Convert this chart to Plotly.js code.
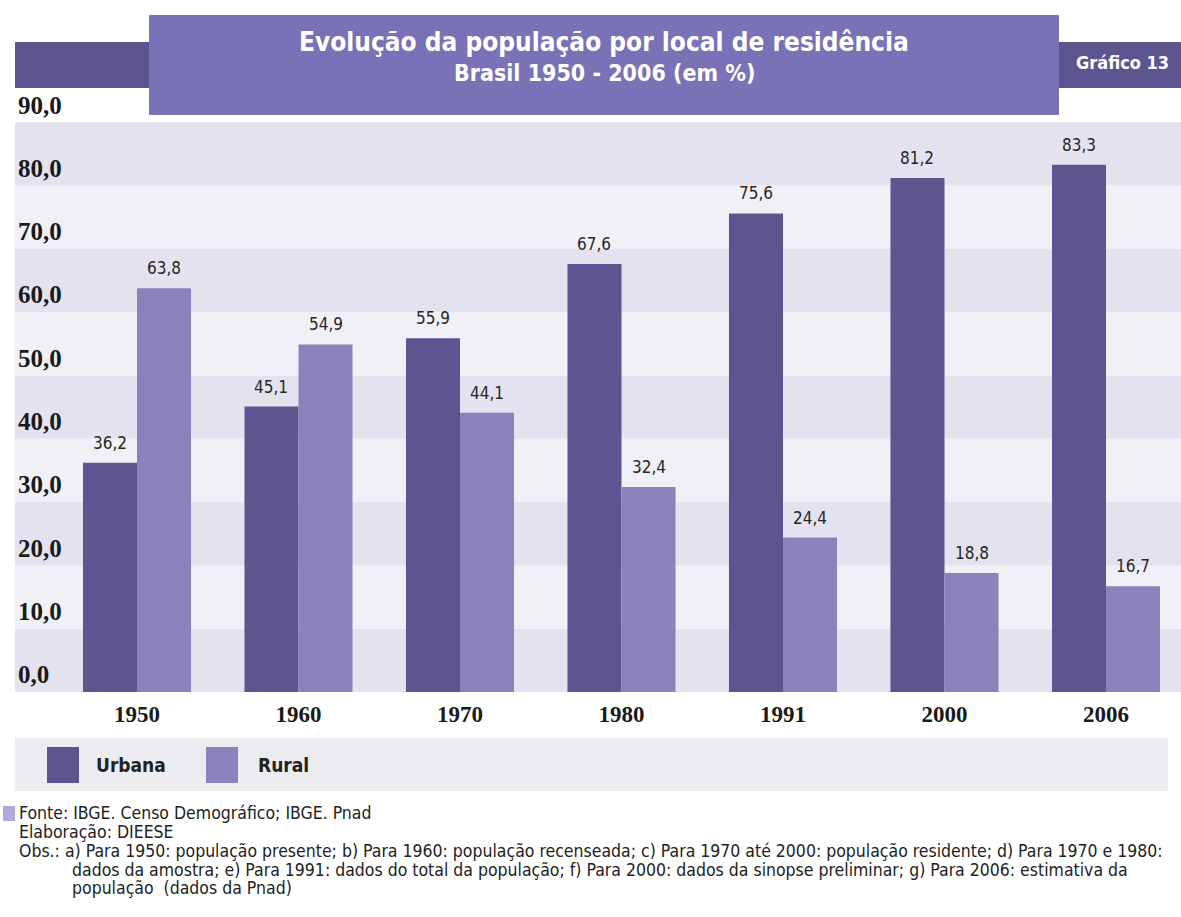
<!DOCTYPE html>
<html>
<head>
<meta charset="utf-8">
<script src="https://cdn.plot.ly/plotly-3.0.1.min.js"></script>
<style>html,body{margin:0;padding:0;background:#fff;}#chart{width:1181px;height:917px;}</style>
</head>
<body>
<div id="chart"></div>
<script>
// ---- data ----
var years = ['1950', '1960', '1970', '1980', '1991', '2000', '2006'];
var urbana = [36.2, 45.1, 55.9, 67.6, 75.6, 81.2, 83.3];
var rural = [63.8, 54.9, 44.1, 32.4, 24.4, 18.8, 16.7];
var seriesNames = ['Urbana', 'Rural'];
var yTicks = [0, 10, 20, 30, 40, 50, 60, 70, 80, 90];
var titleLine1 = 'Evolução da população por local de residência';
var titleLine2 = 'Brasil 1950 - 2006 (em %)';
var chartTag = 'Gráfico 13';
var footerLines = [
  'Fonte: IBGE. Censo Demográfico; IBGE. Pnad',
  'Elaboração: DIEESE',
  'Obs.: a) Para 1950: população presente; b) Para 1960: população recenseada; c) Para 1970 até 2000: população residente; d) Para 1970 e 1980:',
  'dados da amostra; e) Para 1991: dados do total da população; f) Para 2000: dados da sinopse preliminar; g) Para 2006: estimativa da',
  'população  (dados da Pnad)'
];

// ---- style ----
var colors = ['#5c5590', '#8a83bb'];
var W = 1181, H = 917;
var yMax = 100;                // headroom so the "90,0" label is drawn
var pxPerUnit = 570 / 90;
var B = 225, baseY = H - B;    // baseline pixel 692
var T = Math.round(baseY - yMax * pxPerUnit);
var L = 15, R = 0;
var plotW = W - L - R, plotH = H - T - B;
function px(x) { return (x - L) / plotW; }
function py(y) { return (baseY - y) / plotH; }
var narrow = '"DejaVu Sans Condensed", "DejaVu Sans", sans-serif';
var serif = '"Liberation Serif", "DejaVu Serif", serif';

var bargap = 0.331;
var half = (1 - bargap) / 4;

var traces = [
  {type: 'bar', name: seriesNames[0], x: years, y: urbana, marker: {color: colors[0]}, hoverinfo: 'x+y'},
  {type: 'bar', name: seriesNames[1], x: years, y: rural, marker: {color: colors[1]}, hoverinfo: 'x+y'}
];

var shapes = [];
// alternating bands
for (var i = 0; i < yTicks.length - 1; i++) {
  shapes.push({type: 'rect', layer: 'below', xref: 'paper', yref: 'y', x0: 0, x1: 1,
    y0: yTicks[i], y1: yTicks[i + 1], line: {width: 0},
    fillcolor: (i % 2 === 0) ? '#e4e2ef' : '#f1f0f7'});
}
// header strips and title box
shapes.push({type: 'rect', layer: 'below', xref: 'paper', yref: 'paper', x0: px(15), x1: px(149), y0: py(88), y1: py(42), line: {width: 0}, fillcolor: '#5c5590'});
shapes.push({type: 'rect', layer: 'below', xref: 'paper', yref: 'paper', x0: px(1059), x1: px(1181), y0: py(88), y1: py(42), line: {width: 0}, fillcolor: '#5c5590'});
shapes.push({type: 'rect', layer: 'below', xref: 'paper', yref: 'paper', x0: px(149), x1: px(1059), y0: py(115), y1: py(15), line: {width: 0}, fillcolor: '#7a72b6'});
// legend band
shapes.push({type: 'rect', xref: 'paper', yref: 'paper', x0: px(15), x1: px(1168), y0: py(791), y1: py(738), line: {width: 0}, fillcolor: '#ececf0'});
// legend squares
var legX = [47, 206];
for (var s = 0; s < 2; s++) {
  shapes.push({type: 'rect', xref: 'paper', yref: 'paper', x0: px(legX[s]), x1: px(legX[s] + 32), y0: py(783), y1: py(747), line: {width: 0}, fillcolor: colors[s]});
}
// footer square
shapes.push({type: 'rect', xref: 'paper', yref: 'paper', x0: px(3), x1: px(15), y0: py(821), y1: py(806), line: {width: 0}, fillcolor: '#b0aadb'});

var annotations = [];
// value labels
function fmt(v) { return v.toFixed(1).replace('.', ','); }
var series = [urbana, rural];
for (var s2 = 0; s2 < 2; s2++) {
  for (var j = 0; j < years.length; j++) {
    annotations.push({xref: 'x', yref: 'y', x: j + (s2 === 0 ? -half : half), y: series[s2][j],
      text: fmt(series[s2][j]), showarrow: false, yanchor: 'bottom', yshift: 8,
      font: {family: narrow, size: 17, color: '#262626'}});
  }
}
// titles
annotations.push({xref: 'paper', yref: 'paper', x: px(604), y: py(42), text: '<b>' + titleLine1 + '</b>', showarrow: false,
  xanchor: 'center', yanchor: 'middle', font: {family: narrow, size: 26, color: '#ffffff'}});
annotations.push({xref: 'paper', yref: 'paper', x: px(604), y: py(73), text: '<b>' + titleLine2 + '</b>', showarrow: false,
  xanchor: 'center', yanchor: 'middle', font: {family: narrow, size: 23, color: '#ffffff'}});
annotations.push({xref: 'paper', yref: 'paper', x: px(1122), y: py(62), text: '<b>' + chartTag + '</b>', showarrow: false,
  xanchor: 'center', yanchor: 'middle', font: {family: narrow, size: 18, color: '#ffffff'}});
// legend labels
var legTextX = [94, 256];
for (var s3 = 0; s3 < 2; s3++) {
  annotations.push({xref: 'paper', yref: 'paper', x: px(legTextX[s3]), y: py(765), text: '<b>' + seriesNames[s3] + '</b>', showarrow: false,
    xanchor: 'left', yanchor: 'middle', font: {family: narrow, size: 19, color: '#222222'}});
}
// footer
var footY = [813, 832, 851, 870, 888];
var footX = [17, 17, 17, 70, 70];
for (var f = 0; f < footerLines.length; f++) {
  annotations.push({xref: 'paper', yref: 'paper', x: px(footX[f]), y: py(footY[f]), text: footerLines[f], showarrow: false,
    xanchor: 'left', yanchor: 'middle', font: {family: narrow, size: 17.5, color: '#222222'}});
}

var catStep = 161.5, firstCenter = 137;
var layout = {
  width: W, height: H,
  margin: {l: L, r: R, t: T, b: B, pad: 0},
  paper_bgcolor: '#ffffff', plot_bgcolor: 'rgba(0,0,0,0)',
  separators: ',.',
  barmode: 'group', bargap: bargap, bargroupgap: 0,
  showlegend: false,
  xaxis: {type: 'category', range: [(L - firstCenter) / catStep, (W - R - firstCenter) / catStep],
    showgrid: false, zeroline: false, showline: false, ticks: '', ticklabelstandoff: 6,
    tickfont: {family: serif, size: 23, color: '#1a1a1a', weight: 'bold'}, fixedrange: true},
  yaxis: {range: [0, yMax], tickvals: yTicks, tickformat: '.1f', ticklabelposition: 'inside top',
    showgrid: false, zeroline: false, showline: false, ticks: '',
    tickfont: {family: serif, size: 25, color: '#1a1a1a', weight: 'bold'}, fixedrange: true},
  shapes: shapes,
  annotations: annotations
};

Plotly.newPlot('chart', traces, layout, {displayModeBar: false, staticPlot: true});
</script>
</body>
</html>
